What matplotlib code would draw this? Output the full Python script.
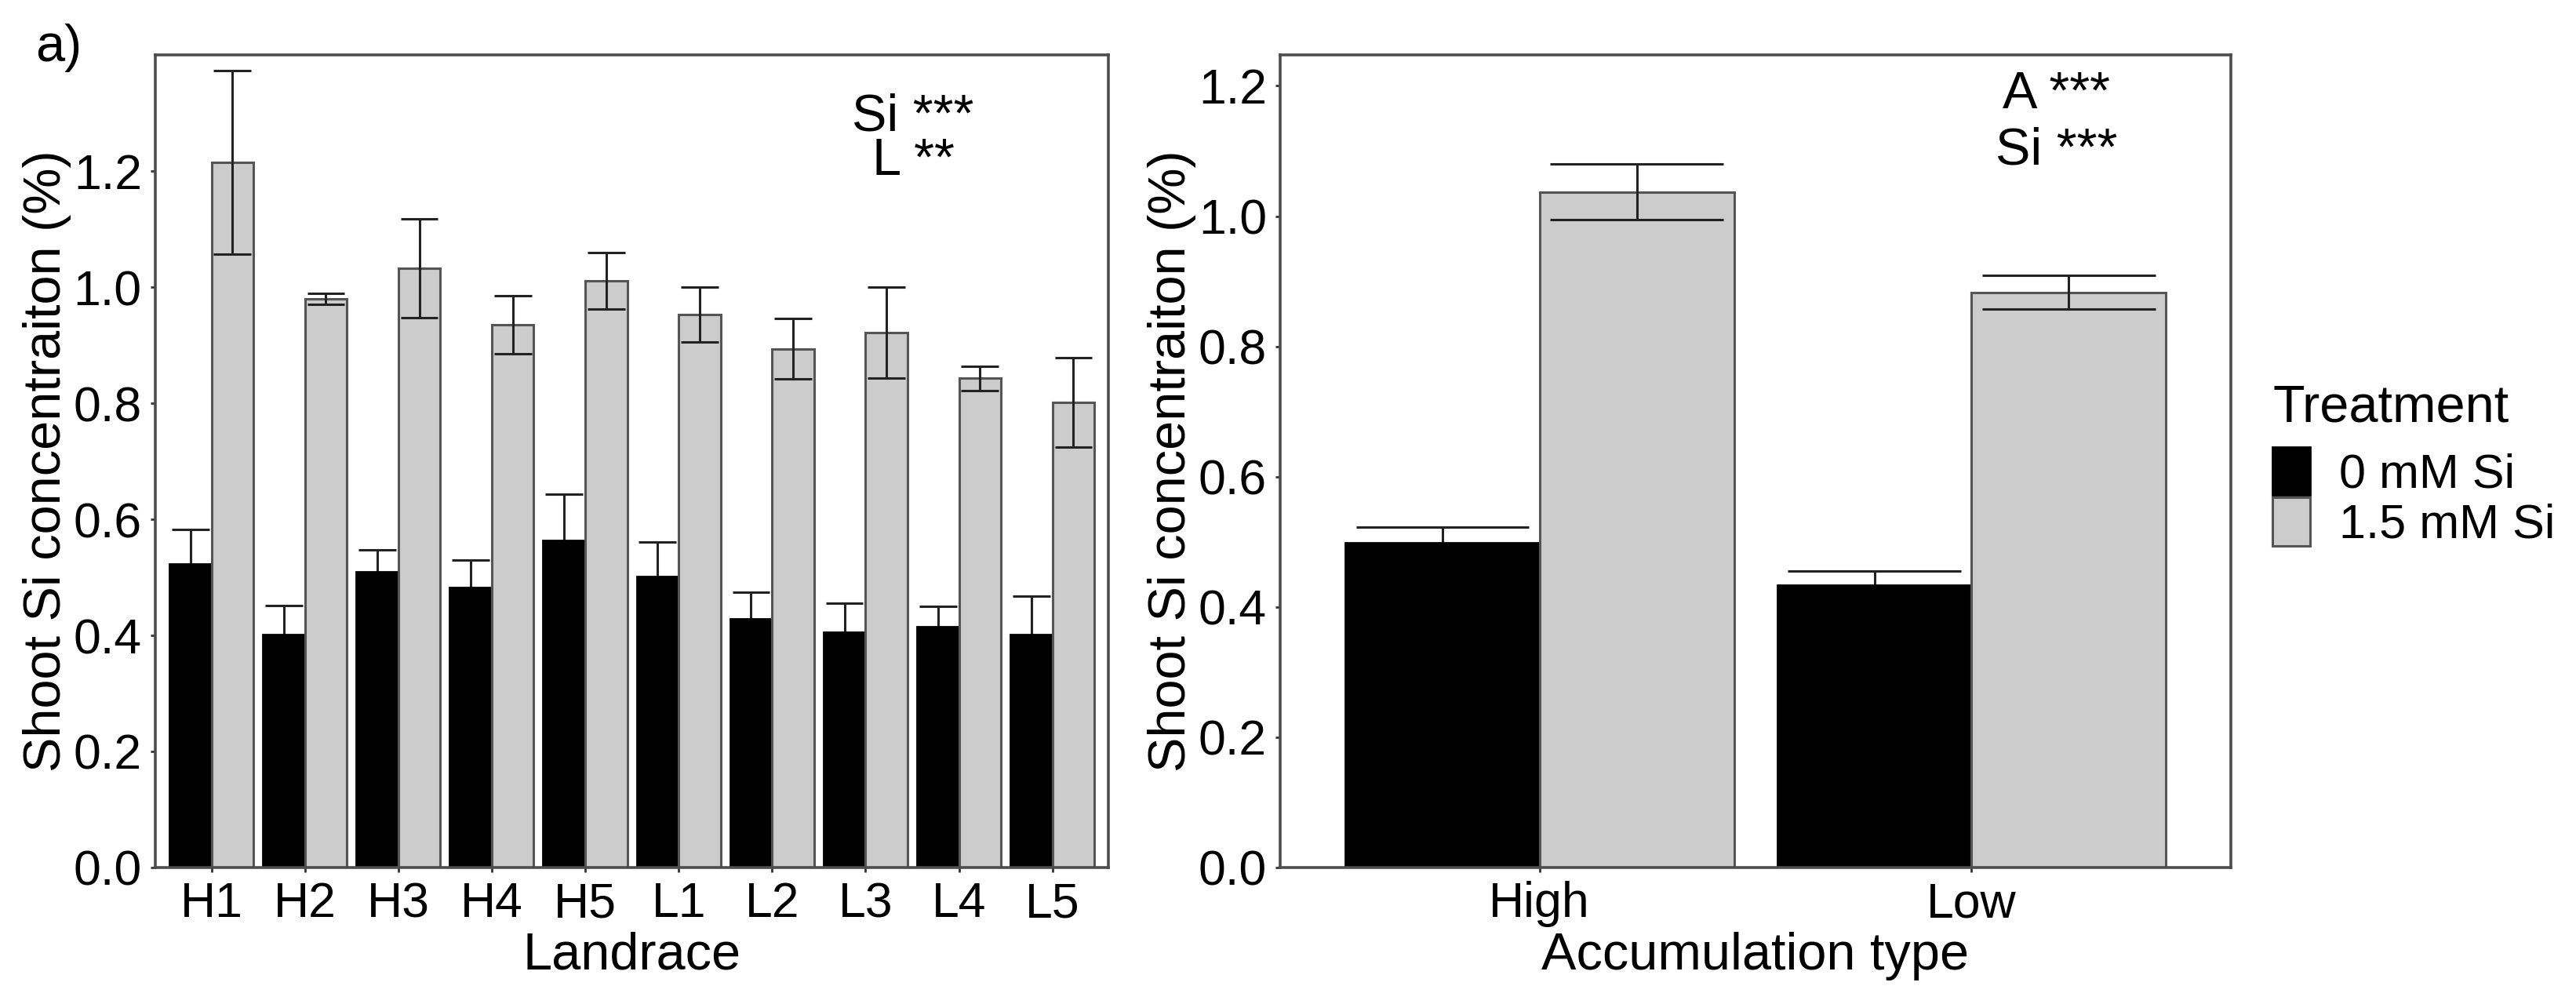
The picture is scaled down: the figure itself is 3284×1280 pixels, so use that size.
import numpy as np
import matplotlib.pyplot as plt
from matplotlib.patches import Patch

plt.rcParams['font.family'] = ['Liberation Sans', 'DejaVu Sans']

# left panel: landraces
landraces = ['H1', 'H2', 'H3', 'H4', 'H5', 'L1', 'L2', 'L3', 'L4', 'L5']
si0_mean = [0.523, 0.402, 0.509, 0.483, 0.563, 0.502, 0.428, 0.406, 0.415, 0.402]
si0_se = [0.060, 0.049, 0.039, 0.047, 0.080, 0.059, 0.047, 0.049, 0.035, 0.066]
si15_mean = [1.215, 0.980, 1.033, 0.936, 1.011, 0.953, 0.894, 0.922, 0.843, 0.802]
si15_se = [0.158, 0.009, 0.085, 0.050, 0.049, 0.047, 0.052, 0.078, 0.021, 0.077]

# right panel: accumulation type
acc_types = ['High', 'Low']
acc0_mean = [0.499, 0.433]
acc0_se = [0.023, 0.022]
acc15_mean = [1.037, 0.883]
acc15_se = [0.043, 0.026]

treatments = ['0 mM Si', '1.5 mM Si']

BW = 0.45
EDGE = '#555555'
ERR = '#222222'
FRAME = '#4d4d4d'


def errbars(ax, xs, m, s, z):
    m = np.array(m)
    s = np.array(s)
    ax.vlines(xs, m - s, m + s, color=ERR, lw=1.1, zorder=z)
    ax.hlines(m + s, xs - 0.2, xs + 0.2, color=ERR, lw=1.1, zorder=z)
    ax.hlines(m - s, xs - 0.2, xs + 0.2, color=ERR, lw=1.1, zorder=z)


def draw(ax, cats, m0, s0, m1, s1, ymax, ticks):
    x = np.arange(1, len(cats) + 1)
    # black bars sit over their own error bars, so only the upper half shows
    errbars(ax, x - BW / 2, m0, s0, 1.5)
    ax.bar(x - BW / 2, m0, width=BW, color='black', edgecolor='black', lw=1.0, zorder=2)
    ax.bar(x + BW / 2, m1, width=BW, color='#cccccc', edgecolor=EDGE, lw=1.1, zorder=2)
    errbars(ax, x + BW / 2, m1, s1, 3)
    ax.set_xlim(0.4, len(cats) + 0.6)
    ax.set_ylim(0, ymax)
    ax.set_xticks(x)
    ax.set_xticklabels(cats)
    ax.set_yticks(ticks)
    ax.set_yticklabels(['%.1f' % t for t in ticks])
    ax.tick_params(labelsize=22.5, length=2.2, width=1.0, color='#333333', pad=4)
    for sp in ax.spines.values():
        sp.set_color(FRAME)
        sp.set_linewidth(1.3)
    ax.set_ylabel('Shoot Si concentraiton (%)', fontsize=24, labelpad=1)


fig = plt.figure(figsize=(16.42, 6.4), dpi=200)
ax1 = fig.add_axes([0.0603, 0.136, 0.370, 0.809])
ax2 = fig.add_axes([0.497, 0.136, 0.369, 0.809])

ticks = [0.0, 0.2, 0.4, 0.6, 0.8, 1.0, 1.2]
draw(ax1, landraces, si0_mean, si0_se, si15_mean, si15_se, 1.40, ticks)
draw(ax2, acc_types, acc0_mean, acc0_se, acc15_mean, acc15_se, 1.247, ticks)

ax1.set_xlabel('Landrace', fontsize=24, labelpad=2)
ax2.set_xlabel('Accumulation type', fontsize=24, labelpad=2)

ax1.text(8.51, 1.255, 'Si ***\nL **', ha='center', va='center',
         fontsize=24, linespacing=0.9)
ax2.text(2.197, 1.143, 'A ***\nSi ***', ha='center', va='center',
         fontsize=24, linespacing=1.2)

fig.text(0.0228, 0.952, 'a)', fontsize=24, ha='center', va='center')

# legend
fig.text(2897 / 3284, 1 - 538 / 1280, 'Treatment', fontsize=24,
         ha='left', va='baseline')
handles = [Patch(facecolor='black', edgecolor='black', lw=1.0),
           Patch(facecolor='#cccccc', edgecolor=EDGE, lw=1.1)]
leg = fig.legend(handles, treatments, loc='upper left',
                 bbox_to_anchor=(2897 / 3284, 1 - 570 / 1280), frameon=False,
                 fontsize=22, borderpad=0, borderaxespad=0,
                 handlelength=0.79, handleheight=1.17, handletextpad=0.6,
                 labelspacing=0.0)

fig.savefig('out.png', dpi=200)
